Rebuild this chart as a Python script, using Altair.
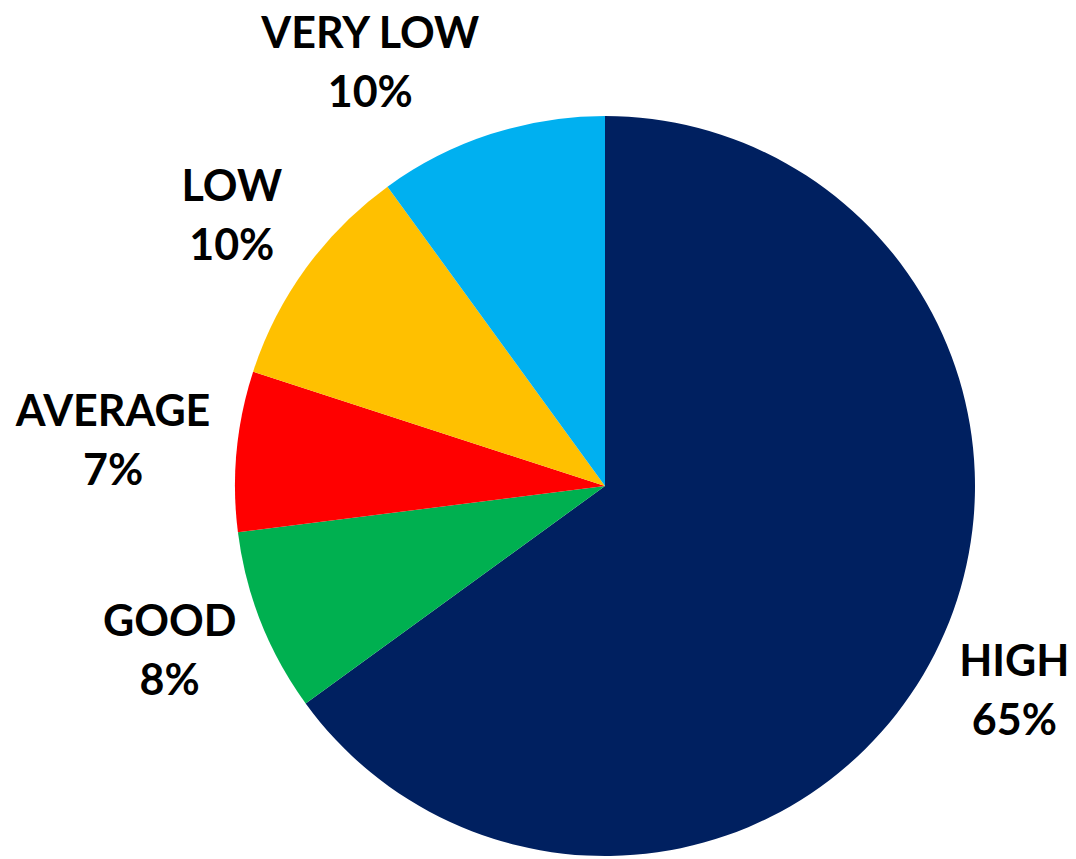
import math
import altair as alt
import pandas as pd

categories = ["HIGH", "GOOD", "AVERAGE", "LOW", "VERY LOW"]
values = [65, 8, 7, 10, 10]
colors = ["#002060", "#00B050", "#FF0000", "#FFC000", "#00B0F0"]

# label nudges (style only): (dx, dy)
nudges = {"HIGH": (-5, -34), "GOOD": (-3, -34), "AVERAGE": (-29, -29), "LOW": (3, -25), "VERY LOW": (-91, -9)}

df = pd.DataFrame({"category": categories, "value": values, "order": list(range(len(categories)))})

base = (
    alt.Chart(df)
    .transform_window(cum="sum(value)", sort=[alt.SortField("order")], frame=[None, 0])
    .transform_calculate(
        start="datum.cum - datum.value",
        mid="datum.cum - datum.value / 2",
        label="datum.category + '\\n' + datum.value + '%'",
    )
)

theta_scale = alt.Scale(domain=[0, 100], range=[0, 2 * math.pi])

arc = base.mark_arc(outerRadius=370).encode(
    theta=alt.Theta("start:Q", scale=theta_scale),
    theta2="cum:Q",
    color=alt.Color("category:N", scale=alt.Scale(domain=categories, range=colors), legend=None),
)

layers = [arc]
for c in categories:
    dx, dy = nudges[c]
    t = (
        base.transform_filter(alt.datum.category == c)
        .mark_text(
            radius=465,
            dx=dx,
            dy=dy,
            font="Lato",
            fontWeight="bold",
            fontSize=43,
            lineBreak="\n",
            lineHeight=59,
            color="#000000",
            align="center",
            baseline="middle",
        )
        .encode(theta=alt.Theta("mid:Q", scale=theta_scale), text="label:N")
    )
    layers.append(t)

chart = (
    alt.layer(*layers)
    .properties(
        width=942,
        height=746,
        padding={"left": 134, "top": 113, "right": 0, "bottom": 0},
        autosize=alt.AutoSizeParams(type="none"),
        background="white",
    )
    .configure_view(stroke=None)
)

chart.save("out.html", embed_options={"renderer": "svg", "actions": False})
